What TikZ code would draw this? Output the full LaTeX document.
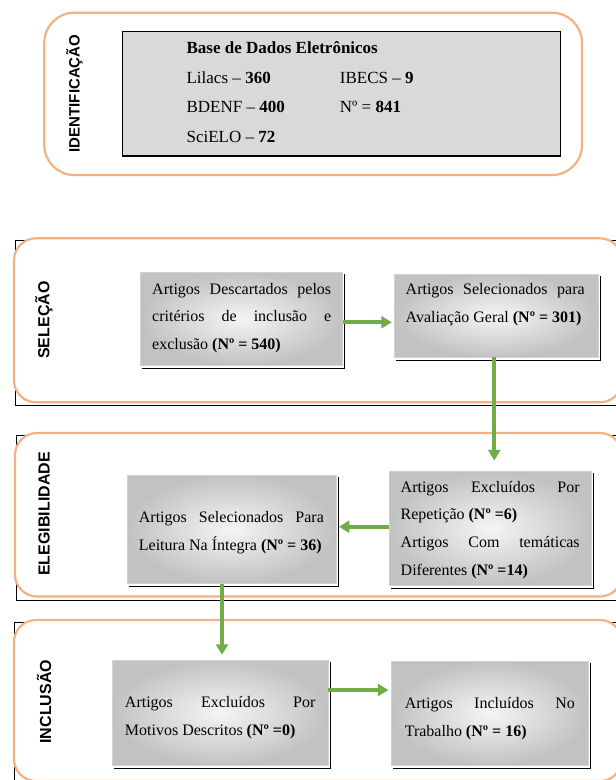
\documentclass[tikz,border=0pt]{standalone}
\usepackage{fontspec}
\setmainfont{Liberation Serif}
\newfontfamily\lblfont{Liberation Sans}
\usetikzlibrary{arrows.meta,calc}
\definecolor{secorange}{RGB}{244,177,131}
\definecolor{arrgreen}{RGB}{112,173,71}
\definecolor{idgray}{RGB}{217,217,217}
\begin{document}
\begin{tikzpicture}[x=1pt,y=-1pt,
  sec/.style={draw=secorange, line width=2.2pt, fill=white, rounded corners=22pt},
  frameline/.style={draw=black, line width=0.9pt},
  gbox/.style={draw=black!18, line width=0.5pt, shading=radial, inner color=black!4, outer color=black!24, inner sep=0pt},
  shadowline/.style={draw=black, line width=0.8pt},
  txt/.style={inner sep=0pt, align=justify, font=\fontsize{16}{27.8}\selectfont,
    execute at begin node={\hyphenpenalty=10000\exhyphenpenalty=10000\tolerance=9999\emergencystretch=10pt}},
  idtxt/.style={anchor=base west, inner sep=0pt, font=\fontsize{17}{20}\selectfont},
  seclabel/.style={font=\lblfont\bfseries\fontsize{16}{16}\selectfont, rotate=90, inner sep=0pt},
  arr/.style={draw=arrgreen, line width=4pt, -{Triangle[width=12pt,length=10.5pt]}},
]
\useasboundingbox (0,0) rectangle (616,780);
\clip (0,0) rectangle (616,780);
\fill[white] (0,0) rectangle (616,780);

% ---------- IDENTIFICACAO ----------
\draw[sec, rounded corners=30pt] (44.3,12.7) rectangle (582,175);
\node[draw=black, line width=1.3pt, fill=idgray, minimum width=437.9pt, minimum height=124.3pt, inner sep=0pt] (db) at (341.55,93.85) {};
\node[idtxt] (t0) at (186.4,53.3) {\textbf{Base de Dados Eletrônicos}};
\node[idtxt] (t1) at (186.4,83.3) {Lilacs – \textbf{360}};
\node[idtxt] (t2) at (339.7,83.3) {IBECS – \textbf{9}};
\node[idtxt] (t3) at (186.4,112.3) {BDENF – \textbf{400}};
\node[idtxt] (t4) at (339.7,112.3) {Nº = \textbf{841}};
\node[idtxt] (t5) at (186.4,142.3) {SciELO – \textbf{72}};
\node[seclabel, font=\lblfont\bfseries\fontsize{15}{15}\selectfont] (lid) at (74.5,93.5) {IDENTIFICAÇÃO};

% ---------- SELECAO ----------
\draw[frameline] (620,240) -- (15,240) -- (15,405.7) -- (620,405.7);
\draw[sec] (14,238.3) rectangle (622,402.3);
\node[seclabel] (lsel) at (44,320) {SELEÇÃO};

% ---------- ELEGIBILIDADE ----------
\draw[frameline] (620,435.7) -- (16.5,435.7) -- (16.5,600.7) -- (620,600.7);
\draw[sec] (15,433) rectangle (622,596.5);
\node[seclabel] (leg) at (44,514) {ELEGIBILIDADE};

% ---------- INCLUSAO ----------
\draw[frameline] (620,622.7) -- (14,622.7) -- (14,790);
\draw[sec] (14,620) rectangle (622,781);
\node[seclabel] (linc) at (44,701.7) {INCLUSÃO};

% ---------- boxes ----------
\node[gbox, minimum width=202.3pt, minimum height=92.7pt] (A) at (241.45,318.65) {};
\node[gbox, minimum width=204pt, minimum height=82.7pt] (B) at (496,315.65) {};
\node[gbox, minimum width=202pt, minimum height=113.3pt] (C) at (490,528.35) {};
\node[gbox, minimum width=209pt, minimum height=108.3pt] (D) at (231.5,529.15) {};
\node[gbox, minimum width=216pt, minimum height=105pt] (E) at (220,712.5) {};
\node[gbox, minimum width=196.3pt, minimum height=103.3pt] (F) at (489.85,713.35) {};
\foreach \n in {A,B,C,D,E,F}
  \draw[shadowline] ([shift={(2,2)}]\n.north east) -- ([shift={(2,3)}]\n.south east) -- ([shift={(2,3)}]\n.south west);

\node[txt, text width=179pt] (At) at (241.7,318) {Artigos Descartados pelos critérios de inclusão e exclusão \textbf{(Nº~=~540)}};
\node[txt, text width=179pt] (Bt) at (495.2,305) {Artigos Selecionados para Avaliação Geral \textbf{(Nº~=~301)}};
\node[txt, text width=179pt] (Ct) at (490.2,530) {Artigos Excluídos Por Repetição \textbf{(Nº~=6)}\par Artigos Com temáticas Diferentes \textbf{(Nº~=14)}};
\node[txt, text width=185pt] (Dt) at (231.4,532.8) {Artigos Selecionados Para Leitura Na Íntegra \textbf{(Nº~=~36)}};
\node[txt, text width=190.5pt] (Et) at (220.2,717.5) {Artigos Excluídos Por Motivos Descritos \textbf{(Nº~=0)}};
\node[txt, text width=170pt] (Ft) at (489.8,718.3) {Artigos Incluídos No Trabalho \textbf{(Nº~=~16)}};

% ---------- arrows ----------
\draw[arr, shorten >=2pt] ([yshift=-3.6pt]A.east) -- ([yshift=-3.6pt]A.east -| B.west);
\draw[arr, shorten >=11pt] ([xshift=-1.7pt]B.south) -- ([xshift=-1.7pt]B.south |- C.north);
\draw[arr, shorten >=2.7pt] ([yshift=1.6pt]C.west) -- ([yshift=1.6pt]C.west -| D.east);
\draw[arr, shorten >=5pt] ($(D.south -| E.north)+(2,0)$) -- ($(E.north)+(2,0)$);
\draw[arr, shorten >=3pt] ($(E.east)+(0,-22.5)$) -- ($(E.east -| F.west)+(0,-22.5)$);
\end{tikzpicture}
\end{document}
